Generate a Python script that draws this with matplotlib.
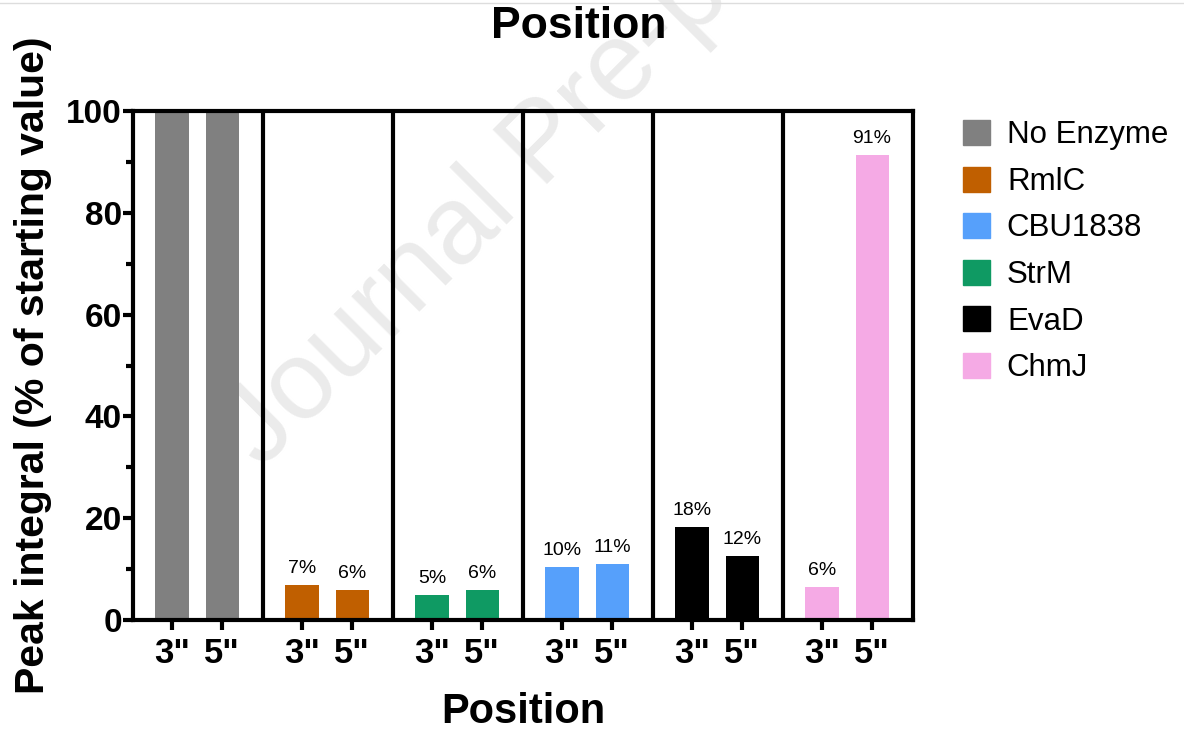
import numpy as np
import matplotlib
matplotlib.use("Agg")
import matplotlib.pyplot as plt
from matplotlib.patches import Patch
from matplotlib.lines import Line2D

plt.rcParams['font.family'] = ['Liberation Sans', 'DejaVu Sans']

# dados
enzimas = ["No Enzyme", "RmlC", "StrM", "CBU1838", "EvaD", "ChmJ"]
valores_3 = [100, 6.9, 4.9, 10.4, 18.3, 6.5]
valores_5 = [100, 5.9, 5.9, 11.0, 12.6, 91.4]
rotulos_3 = [None, "7%", "5%", "10%", "18%", "6%"]
rotulos_5 = [None, "6%", "6%", "11%", "12%", "91%"]
cores = {"No Enzyme": "#808080", "RmlC": "#C05F00", "CBU1838": "#56A0FB",
         "StrM": "#0F9A63", "EvaD": "#000000", "ChmJ": "#F5AAE5"}
ordem_legenda = ["No Enzyme", "RmlC", "CBU1838", "StrM", "EvaD", "ChmJ"]
posicoes = ['3"', '5"']

W, H = 1184, 730
fig = plt.figure(figsize=(W / 100, H / 100), dpi=100)
ax = fig.add_axes([133 / W, 1 - 620 / H, 780 / W, 509 / H])
ax.patch.set_alpha(0)

largura = 0.254
xs = []
for g, nome in enumerate(enzimas):
    x3 = g + 0.3
    x5 = g + 0.685
    ax.bar(x3, valores_3[g], width=largura, color=cores[nome])
    ax.bar(x5, valores_5[g], width=largura, color=cores[nome])
    if rotulos_3[g]:
        ax.text(x3, valores_3[g] + 1.5, rotulos_3[g], ha='center', va='bottom', fontsize=14)
    if rotulos_5[g]:
        ax.text(x5, valores_5[g] + 1.5, rotulos_5[g], ha='center', va='bottom', fontsize=14)
    xs += [x3, x5]
    if g > 0:
        ax.axvline(g, color='black', lw=3)

ax.set_xlim(0, 6)
ax.set_ylim(0, 100)
ax.set_xticks(xs)
ax.set_xticklabels(posicoes * len(enzimas), fontsize=25, fontweight='bold')
ax.set_yticks(np.arange(0, 101, 20))
ax.set_yticks(np.arange(10, 100, 20), minor=True)
ax.set_yticklabels([str(v) for v in range(0, 101, 20)], fontsize=24, fontweight='bold')
ax.tick_params(axis='both', which='major', width=3, length=7)
ax.tick_params(axis='y', which='minor', width=3, length=5)
ax.tick_params(axis='y', pad=1)
ax.tick_params(axis='x', pad=5)
for s in ax.spines.values():
    s.set_linewidth(3)

ax.set_xlabel("Position", fontsize=30, fontweight='bold', labelpad=16)
ax.set_ylabel("Peak integral (% of starting value)", fontsize=29.5, fontweight='bold', labelpad=10)
fig.text(579 / W, 1 - 27 / H, "Position", ha='center', va='center', fontsize=32, fontweight='bold')

handles = [Patch(color=cores[n], label=n) for n in ordem_legenda]
fig.legend(handles=handles, loc='upper left', bbox_to_anchor=(935 / W, 1 - 92 / H), frameon=False,
           fontsize=22.5, handlelength=0.85, handleheight=0.85, labelspacing=0.52, handletextpad=0.55)

# marca d'agua e linha cinza no topo
fig.text(262 / W, 1 - 470 / H, "Journal Pre-proof", rotation=45, rotation_mode='anchor',
         ha='left', va='baseline', fontsize=80, color='#ebebeb', zorder=-1)
fig.add_artist(Line2D([0, 1], [1 - 3 / H, 1 - 3 / H], color='#dddddd', lw=1))

fig.savefig("out.png", dpi=100)
